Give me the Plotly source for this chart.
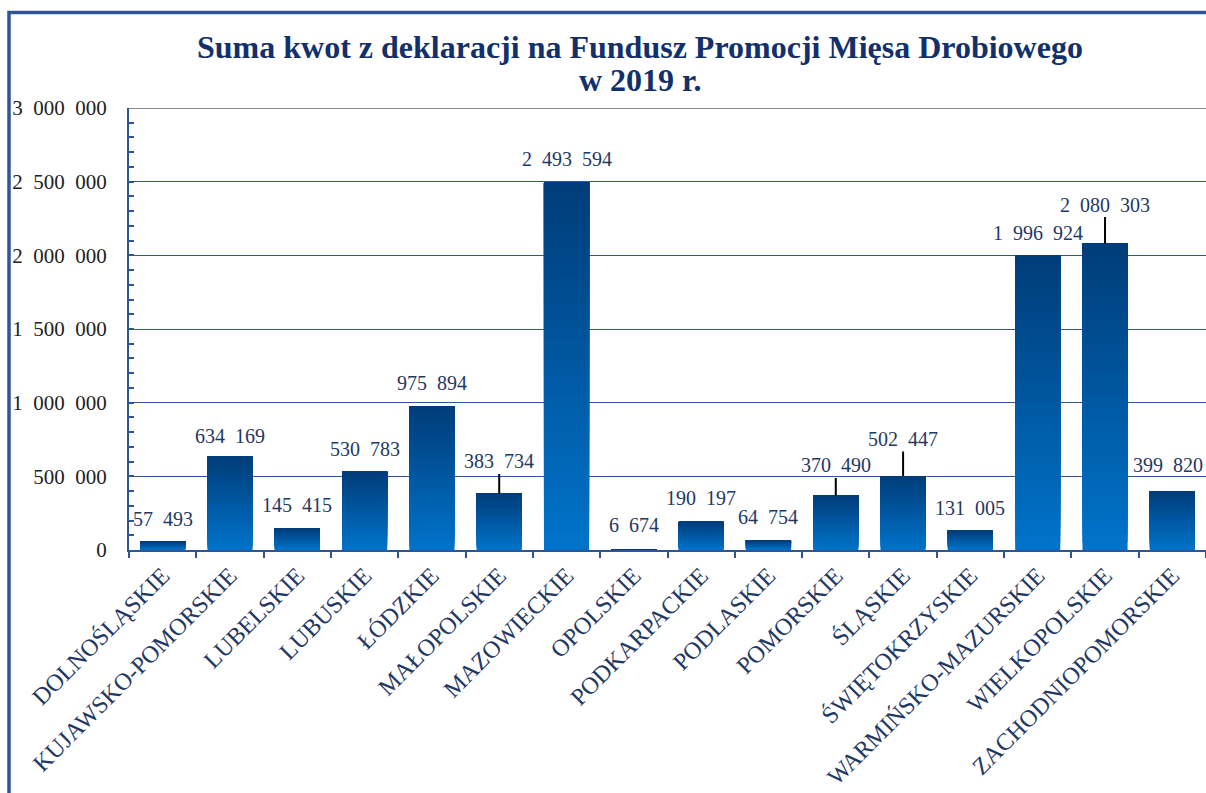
import plotly.graph_objects as go

# ---------------- data ----------------
regions = [
    "DOLNOŚLĄSKIE", "KUJAWSKO-POMORSKIE", "LUBELSKIE", "LUBUSKIE", "ŁÓDZKIE",
    "MAŁOPOLSKIE", "MAZOWIECKIE", "OPOLSKIE", "PODKARPACKIE", "PODLASKIE",
    "POMORSKIE", "ŚLĄSKIE", "ŚWIĘTOKRZYSKIE", "WARMIŃSKO-MAZURSKIE",
    "WIELKOPOLSKIE", "ZACHODNIOPOMORSKIE",
]
amounts = [
    57493, 634169, 145415, 530783, 975894,
    383734, 2493594, 6674, 190197, 64754,
    370490, 502447, 131005, 1996924,
    2080303, 399820,
]
y_ticks = [0, 500000, 1000000, 1500000, 2000000, 2500000, 3000000]

title_lines = ["Suma kwot z deklaracji na Fundusz Promocji Mięsa Drobiowego", "w 2019 r."]

# ---------------- style ----------------
SEP = "\u00a0\u00a0"  # digit-wide gap, like the original
def fmt(v):
    return f"{v:,}".replace(",", SEP)

NAVY = "#1F3864"
TITLE_C = "#12306B"
AXIS_BLUE = "#2F5597"
TOP_C = (0x00, 0x3D, 0x7A)
BOT_C = (0x00, 0x73, 0xC9)
SERIF = "Liberation Serif"

# label offsets (pixels) and leader-line flags
label_dy = [-23, -21, -24, -23, -23, -32, -24, -24, -24, -23, -30, -37, -23, -23, -39, -26]
label_dx = [0, 0, 0, 0, 0, 0, 0, 0, 0, 0, 0, 0, 0, 0, 0, -4]
leader = [False, False, False, False, False, True, False, False, False, False,
          True, True, False, False, True, False]

fig = go.Figure()

# gradient bars: overlapping stacked bars, each from base to the value
N = 40
for k in range(N):
    t = k / (N - 1)
    col = "rgb({},{},{})".format(*[round(b + (a - b) * t) for a, b in zip(TOP_C, BOT_C)])
    fig.add_trace(go.Bar(
        x=regions,
        y=[v - v * k / N for v in amounts],
        base=[v * k / N for v in amounts],
        width=0.67,
        marker=dict(color=col, line=dict(width=0)),
        showlegend=False,
        hoverinfo="skip" if k else None,
    ))

# data labels
for i, (r, v) in enumerate(zip(regions, amounts)):
    if leader[i]:
        fig.add_annotation(
            x=r, y=v, text=fmt(v), showarrow=True, arrowhead=0, arrowwidth=2,
            arrowcolor="#000000", ax=label_dx[i], ay=label_dy[i], standoff=0,
            font=dict(family=SERIF, size=20, color=NAVY),
        )
    else:
        fig.add_annotation(
            x=r, y=v, text=fmt(v), showarrow=False, yanchor="middle",
            xshift=label_dx[i], yshift=-label_dy[i],
            font=dict(family=SERIF, size=20, color=NAVY),
        )

W, H = 1206, 793
ML, MR, MT, MB = 129, 0, 108, 243
pw, ph = W - ML - MR, H - MT - MB

def px_x(px):
    return (px - ML) / pw

def px_y(py):
    return (H - MB - py) / ph

# title (two lines, bold serif)
for line, cy in zip(title_lines, [47, 80]):
    fig.add_annotation(
        xref="paper", yref="paper", x=px_x(640), y=px_y(cy),
        xanchor="center", yanchor="middle", showarrow=False,
        text="<b>" + line + "</b>",
        font=dict(family=SERIF, size=32, color=TITLE_C),
    )

# outer frame (left + top visible)
fig.add_shape(type="rect", xref="paper", yref="paper",
              x0=px_x(9), x1=px_x(1230), y0=px_y(820), y1=px_y(12.5),
              line=dict(color=AXIS_BLUE, width=3.5), layer="below")
# top border of plot area (grey)
fig.add_shape(type="line", xref="paper", yref="y",
              x0=0, x1=1.01, y0=y_ticks[-1], y1=y_ticks[-1],
              line=dict(color="#8C8C8C", width=2), layer="above")

fig.update_layout(
    width=W, height=H,
    font=dict(family=SERIF),
    margin=dict(l=ML, r=MR, t=MT, b=MB, pad=0),
    paper_bgcolor="white", plot_bgcolor="white",
    barmode="overlay", bargap=0.33,
    showlegend=False,
    xaxis=dict(
        type="category", tickson="boundaries", ticks="outside", ticklen=6,
        tickwidth=2, tickcolor=AXIS_BLUE, tickangle=-45,
        showline=True, linecolor=AXIS_BLUE, linewidth=2, showgrid=False,
        tickfont=dict(family=SERIF, size=24, color=NAVY),
        range=[-0.5, len(regions) - 0.5],
    ),
    yaxis=dict(
        range=[0, y_ticks[-1]], tickmode="array", tickvals=y_ticks,
        ticktext=[fmt(v) for v in y_ticks],
        ticks="inside", ticklen=5, tickwidth=2, tickcolor=AXIS_BLUE,
        showline=True, linecolor=AXIS_BLUE, linewidth=2,
        showgrid=True, gridcolor=AXIS_BLUE, gridwidth=1,
        zeroline=False, ticklabelstandoff=16,
        minor=dict(dtick=100000, ticks="inside", ticklen=5, tickwidth=2,
                   tickcolor=AXIS_BLUE, showgrid=False),
        tickfont=dict(family=SERIF, size=21, color="#222222"),
    ),
)

fig.write_html("out.html")
